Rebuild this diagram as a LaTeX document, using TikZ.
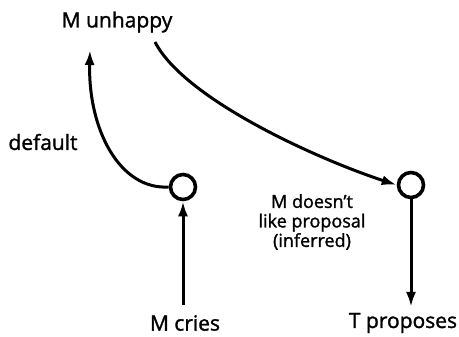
\documentclass[tikz,border=0pt]{standalone}
\usepackage{fontspec}
\setmainfont{Open Sans}
\newfontfamily\lblfont{Open Sans}[FakeBold=1.4]
\usetikzlibrary{arrows.meta}
\begin{document}
\begin{tikzpicture}[x=1pt,y=-1pt,
  lbl/.style={font=\lblfont\fontsize{21}{22}\selectfont, inner sep=0pt},
  junc/.style={circle, draw, line width=3.6pt, minimum size=25pt, inner sep=0pt},
  link/.style={line width=3pt, -{Latex[length=15pt,width=10pt]}}]
\useasboundingbox (0,0) rectangle (459,337);
\node[lbl] (unhappy) at (117,22) {M unhappy};
\node[lbl] (default) at (43,142) {default};
\node[junc] (j1) at (183,187) {};
\node[junc] (j2) at (411,185) {};
\node[lbl] (cries) at (185,323) {M cries};
\node[lbl] (proposes) at (403,323) {T proposes};
\node[lbl, align=center, font=\lblfont\fontsize{18}{19.5}\selectfont] (inferred) at (312,222) {M doesn’t\\like proposal\\(inferred)};
\coordinate (u1) at (90,50);
\coordinate (u2) at (155,42);
\draw[link] (j1.west) .. controls (120,190) and (88,130) .. (u1);
\draw[link] (u2) .. controls (185,100) and (320,160) .. (j2.west);
\coordinate (c0) at (183,305);
\draw[link] (c0) -- (j1.south);
\coordinate (p0) at (411,307);
\draw[link] (j2.south) -- (p0);
\end{tikzpicture}
\end{document}
